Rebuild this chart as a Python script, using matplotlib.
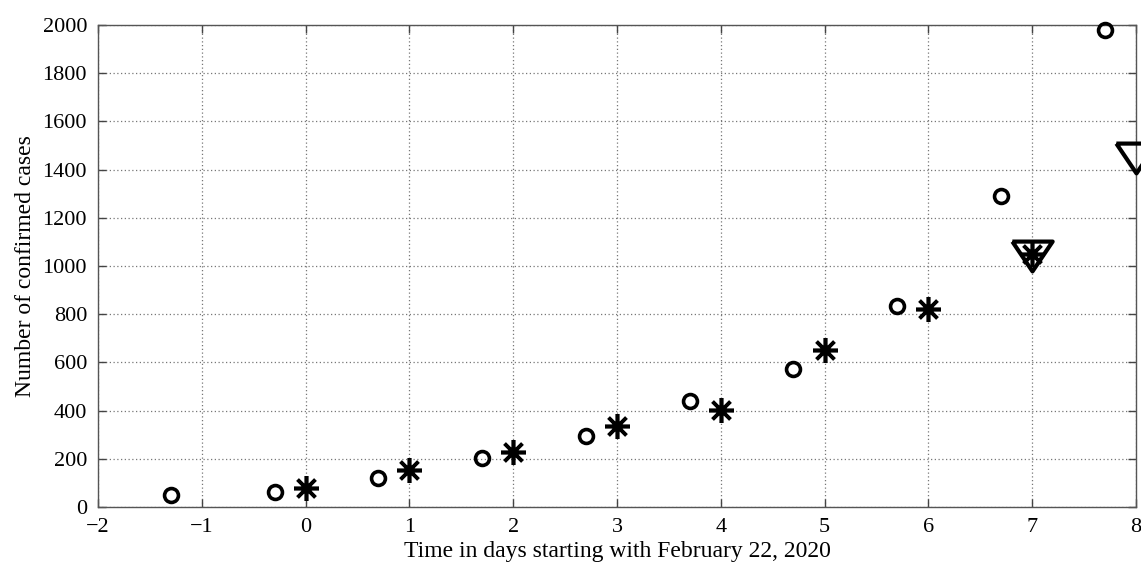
import matplotlib
matplotlib.use("Agg")
import matplotlib.pyplot as plt

# circles: shifted estimate, stars: reported cases, triangles: later reports
circle_days = [-1.3, -0.3, 0.7, 1.7, 2.7, 3.7, 4.7, 5.7, 6.7, 7.7]
circle_cases = [48, 62, 122, 202, 295, 442, 572, 833, 1290, 1978]
star_days = [0, 1, 2, 3, 4, 5, 6, 7]
star_cases = [80, 155, 230, 335, 402, 650, 822, 1050]
tri_days = [7, 8]
tri_cases = [1040, 1448]

x_ticks = [-2, -1, 0, 1, 2, 3, 4, 5, 6, 7, 8]
y_ticks = [0, 200, 400, 600, 800, 1000, 1200, 1400, 1600, 1800, 2000]

plt.rcParams['font.family'] = ['Liberation Serif', 'DejaVu Serif']
plt.rcParams['font.size'] = 16

fig = plt.figure(figsize=(11.41, 5.70), dpi=100)
ax = fig.add_axes([0.086, 0.1105, 0.9096, 0.8455])

# wide downward triangle like the MATLAB marker
tri_marker = [(-1.35, 1.0), (1.35, 1.0), (0.0, -1.0), (-1.35, 1.0)]

ax.plot(circle_days, circle_cases, linestyle='none', marker='o', ms=10,
        mfc='none', mec='black', mew=2.6, clip_on=False, zorder=3)
ax.plot(star_days, star_cases, linestyle='none', marker=(8, 2, 0), ms=18,
        mec='black', mew=2.6, clip_on=False, zorder=3)
ax.plot(tri_days, tri_cases, linestyle='none', marker=tri_marker, ms=29,
        mfc='none', mec='black', mew=3, clip_on=False, zorder=3)

ax.set_xlim(-2, 8)
ax.set_ylim(0, 2000)
ax.set_xticks(x_ticks)
ax.set_yticks(y_ticks)
ax.grid(True, linestyle=(0, (1, 2)), color='#777777', linewidth=0.9)
ax.tick_params(direction='in', length=6, width=1, top=True, right=True,
               color='#444444', pad=8)
for s in ax.spines.values():
    s.set_color('#555555')
    s.set_linewidth(1)

ax.set_xlabel('Time in days starting with February 22, 2020', fontsize=17,
              labelpad=3)
ax.set_ylabel('Number of confirmed cases', fontsize=17, labelpad=5)

fig.savefig('out.png', dpi=100)
